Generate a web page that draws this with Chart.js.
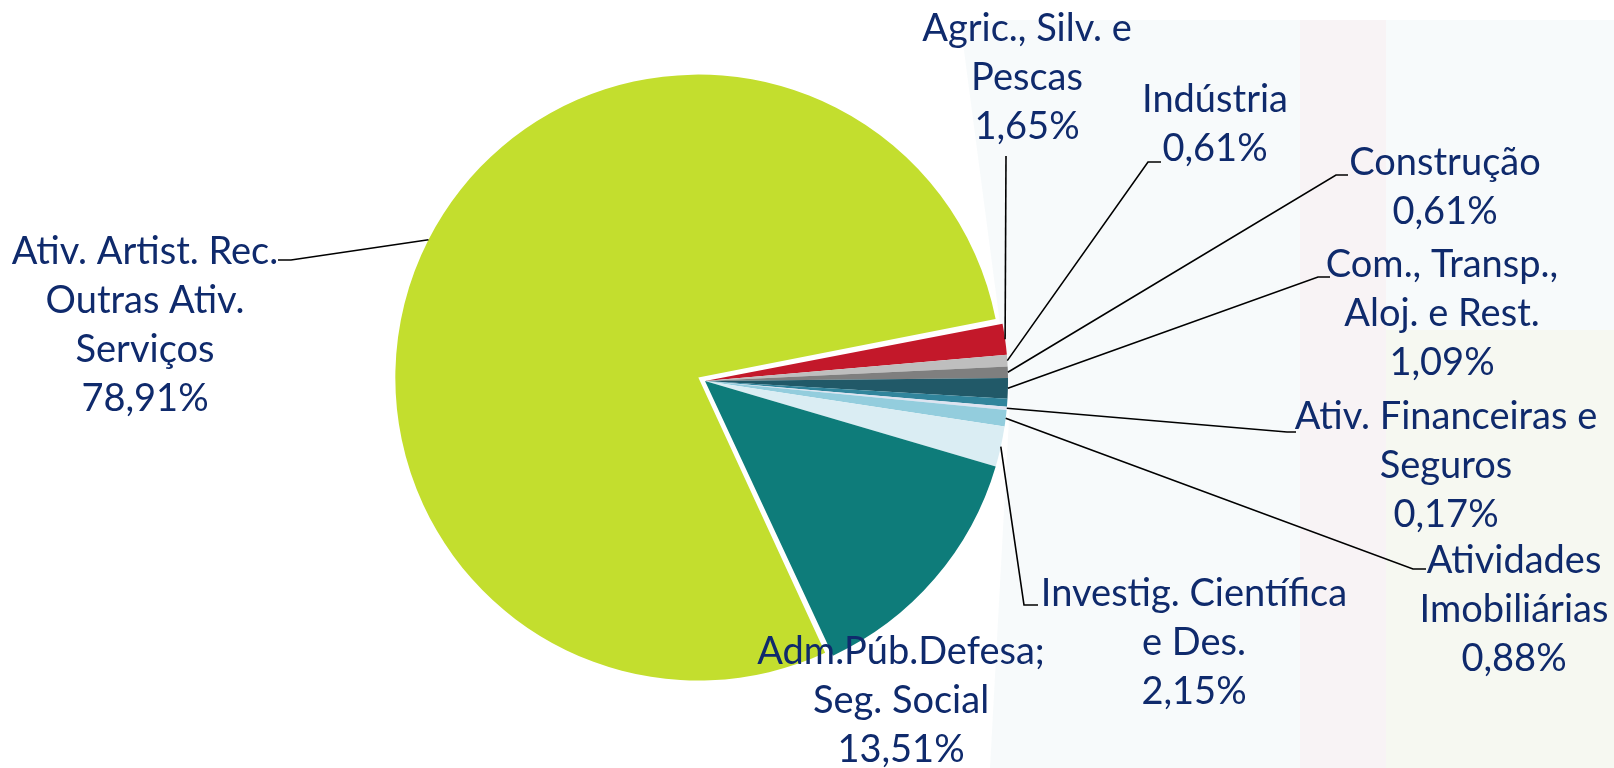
<!DOCTYPE html>
<html>
<head>
<meta charset="utf-8">
<script src="https://cdn.jsdelivr.net/npm/chart.js@4.4.1/dist/chart.umd.min.js"></script>
<style>
  html,body{margin:0;padding:0;background:#fff;}
  #wrap{width:1614px;height:768px;position:relative;}
</style>
</head>
<body>
<div id="wrap"><canvas id="pieChart"></canvas></div>
<script>
// VAB por ramo de atividade (%)
const categories = [
  ['Agric., Silv. e','Pescas'],
  ['Indústria'],
  ['Construção'],
  ['Com., Transp.,','Aloj. e Rest.'],
  [''],
  ['Ativ. Financeiras e','Seguros'],
  ['Atividades','Imobiliárias'],
  ['Investig. Científica','e Des.'],
  ['Adm.Púb.Defesa;','Seg. Social'],
  ['Ativ. Artist. Rec.','Outras Ativ.','Serviços']
];
const shares = [1.65, 0.61, 0.61, 1.09, 0.42, 0.17, 0.88, 2.15, 13.51, 78.91];
const sliceColors = ['#c3182a','#bebebe','#7f7f7f','#215968','#31859c','#dde3f0','#93cddd','#daedf3','#0e7c7a','#c3de2e'];
const exploded = 9; // slice pulled out of the pie

// label placement (text centre of first line, leader elbow, tick end)
const labelLayout = [
  {x:1027, y:29,  ex:1006, ey:156},
  {x:1215, y:100, ex:1148, ey:162, tx:1161},
  {x:1445, y:163, ex:1336, ey:175, tx:1348},
  {x:1442, y:265, ex:1318, ey:277, tx:1330},
  null,
  {x:1446, y:417, ex:1287, ey:432, tx:1296},
  {x:1514, y:561, ex:1413, ey:569, tx:1426},
  {x:1194, y:594, ex:1024, ey:605, tx:1038},
  {x:901,  y:652},
  {x:145,  y:252, ex:291, ey:260, tx:278}
];
const lineH = 49;
const labelFont = '38px Lato, "Open Sans", sans-serif';
const labelColor = '#0f2a6c';
const explodeOffset = 30;

function pct(v){ return v.toFixed(2).replace('.', ',') + '%'; }

const backdrop = {
  id:'backdrop',
  beforeDraw(chart){
    const c = chart.ctx;
    c.save();
    c.fillStyle = '#ffffff';
    c.fillRect(0,0,chart.width,chart.height);
    c.fillStyle = 'rgba(226,236,240,0.28)';
    c.beginPath(); c.moveTo(960,20); c.lineTo(1614,20); c.lineTo(1614,768); c.lineTo(990,768); c.lineTo(1010,400); c.closePath(); c.fill();
    c.fillStyle = 'rgba(250,222,226,0.25)';
    c.fillRect(1300,20,86,748);
    c.fillStyle = 'rgba(245,245,215,0.28)';
    c.fillRect(1386,330,228,438);
    c.restore();
  }
};

// keep the exploded slice at the same radius as the rest of the pie
const explodeFix = {
  id:'explodeFix',
  afterDatasetUpdate(chart, args){
    const arc = chart.getDatasetMeta(args.index).data[exploded];
    if (arc) arc.outerRadius -= explodeOffset/4;
  }
};

const sliceLabels = {
  id:'sliceLabels',
  afterDatasetsDraw(chart){
    const c = chart.ctx;
    const meta = chart.getDatasetMeta(0);
    c.save();
    meta.data.forEach((arc,i)=>{
      const lp = labelLayout[i];
      if (!lp) return;
      const shift = (arc.options.offset||0)/4;
      const mid = (arc.startAngle + arc.endAngle)/2;
      const r = arc.outerRadius + 2*shift;
      const px = arc.x + Math.cos(mid)*r;
      const py = arc.y + Math.sin(mid)*r;
      if (lp.ex !== undefined){
        c.strokeStyle = '#000';
        c.lineWidth = 1.6;
        c.beginPath();
        c.moveTo(px,py);
        c.lineTo(lp.ex,lp.ey);
        if (lp.tx !== undefined) c.lineTo(lp.tx,lp.ey);
        c.stroke();
      }
      const lines = categories[i].concat([pct(shares[i])]);
      c.font = labelFont;
      c.fillStyle = labelColor;
      c.textAlign = 'center';
      c.textBaseline = 'middle';
      lines.forEach((t,k)=> c.fillText(t, lp.x, lp.y + k*lineH));
    });
    c.restore();
  }
};

const ctx = document.getElementById('pieChart').getContext('2d');
new Chart(ctx, {
  type:'pie',
  data:{
    labels: categories.map(l=>l.join(' ')),
    datasets:[{
      data: shares,
      backgroundColor: sliceColors,
      borderWidth: 0,
      offset: shares.map((v,i)=> i===exploded ? explodeOffset : 0)
    }]
  },
  options:{
    responsive:true,
    maintainAspectRatio:false,
    animation:false,
    events:[],
    rotation:79.1,
    radius:303,
    layout:{ padding:{ left:0, right:204, top:0, bottom:6 } },
    plugins:{ legend:{ display:false }, tooltip:{ enabled:false } }
  },
  plugins:[backdrop, explodeFix, sliceLabels]
});
</script>
</body>
</html>
